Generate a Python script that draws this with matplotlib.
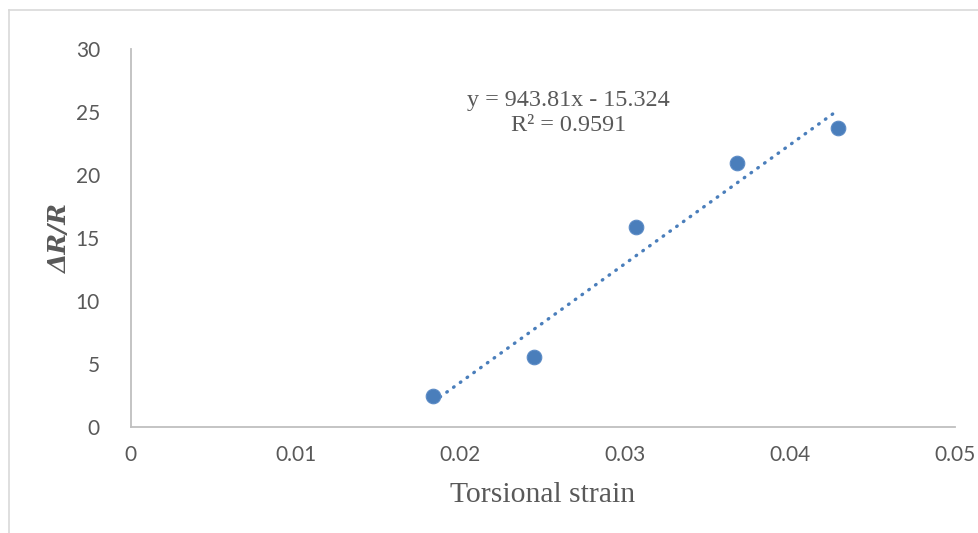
import matplotlib
matplotlib.use("Agg")
import matplotlib.pyplot as plt
from matplotlib.lines import Line2D
import numpy as np

# Torsional strain vs. relative resistance change
strain = [0.01835, 0.02447, 0.03064, 0.03674, 0.04286]
delta_r = [2.48, 5.58, 15.85, 20.98, 23.76]

# Linear trendline as reported
slope = 943.81
intercept = -15.324
r_squared = 0.9591

x_ticks = [0, 0.01, 0.02, 0.03, 0.04, 0.05]
x_tick_labels = ["0", "0.01", "0.02", "0.03", "0.04", "0.05"]
y_ticks = [0, 5, 10, 15, 20, 25, 30]

W, H = 979, 533
fig = plt.figure(figsize=(W / 100, H / 100), dpi=100)
ax = fig.add_axes([130.5 / W, 1 - 427 / H, (955.5 - 130.5) / W, (427 - 49) / H])

grey = "#595959"
blue = "#4A7EBB"

# trendline over the data range
xt = np.array([min(strain), max(strain)])
ax.plot(xt, slope * xt + intercept, color=blue, lw=2.4,
        linestyle=(0, (0.2, 2.3)), dash_capstyle="round", zorder=2)
ax.plot(strain, delta_r, "o", color=blue, markersize=10.5,
        markeredgecolor="#5B8BC6", markeredgewidth=0.8, zorder=3)

ax.set_xlim(0, 0.05)
ax.set_ylim(0, 30)
ax.set_xticks(x_ticks)
ax.set_xticklabels(x_tick_labels)
ax.set_yticks(y_ticks)

for s in ["top", "right"]:
    ax.spines[s].set_visible(False)
for s in ["left", "bottom"]:
    ax.spines[s].set_color("#BFBFBF")
    ax.spines[s].set_linewidth(1.3)

ax.tick_params(axis="both", length=0, labelsize=15, labelcolor=grey)
ax.tick_params(axis="x", pad=13)
ax.tick_params(axis="y", pad=22)
for lab in ax.get_xticklabels() + ax.get_yticklabels():
    lab.set_family("Lato")

fig.text(542.5 / W, 1 - 495 / H, "Torsional strain", family="Liberation Serif",
         fontsize=21.3, color=grey, ha="center", va="center")
fig.text(60 / W, 1 - 239 / H, "ΔR/R", family="DejaVu Serif",
         fontweight="bold", fontstyle="italic", fontsize=18, color=grey,
         rotation=90, ha="center", va="center")

fig.text(568.5 / W, 1 - 113 / H,
         f"y = {slope}x - {abs(intercept)}\nR² = {r_squared}",
         family="Liberation Serif", fontsize=17.4, color=grey,
         ha="center", va="center", linespacing=1.27)

# outer chart frame
fig.add_artist(Line2D([9 / W, 1], [1 - 10 / H, 1 - 10 / H],
                      transform=fig.transFigure, color="#D9D9D9", lw=1.2))
fig.add_artist(Line2D([9 / W, 9 / W], [0, 1 - 10 / H],
                      transform=fig.transFigure, color="#D9D9D9", lw=1.2))

fig.savefig("out.png", dpi=100)
